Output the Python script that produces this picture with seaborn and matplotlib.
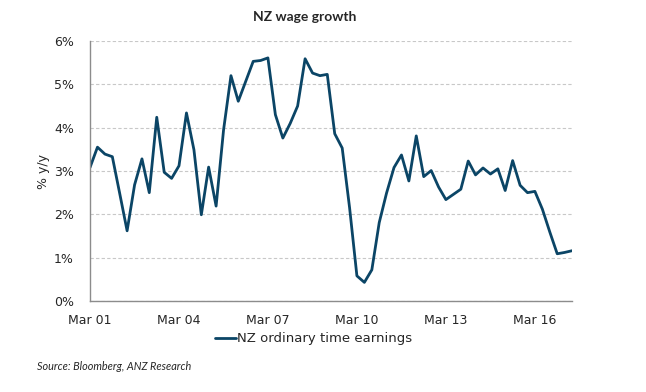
import pandas as pd
import matplotlib
matplotlib.use('Agg')
import matplotlib.pyplot as plt
import matplotlib.dates as mdates
from matplotlib.ticker import FuncFormatter
import seaborn as sns

# Quarterly data, Mar 2001 - Jun 2017
start = '2001-03-01'
n_quarters = 66
wage_growth = [
    3.08, 3.55, 3.39, 3.33, 2.49, 1.62, 2.68, 3.28, 2.50, 4.24, 2.97, 2.83,
    3.12, 4.34, 3.49, 1.99, 3.09, 2.19, 3.95, 5.20, 4.61, 5.07, 5.53, 5.55,
    5.61, 4.30, 3.76, 4.10, 4.50, 5.59, 5.26, 5.20, 5.23, 3.86, 3.53, 2.15,
    0.58, 0.43, 0.72, 1.81, 2.49, 3.08, 3.37, 2.77, 3.81, 2.87, 3.01, 2.63,
    2.34, 2.46, 2.58, 3.23, 2.91, 3.07, 2.93, 3.05, 2.55, 3.24, 2.67, 2.50,
    2.53, 2.12, 1.59, 1.09, 1.12, 1.16,
]
tick_dates = ['2001-03-01', '2004-03-01', '2007-03-01', '2010-03-01', '2013-03-01', '2016-03-01']

df = pd.DataFrame({
    'date': pd.date_range(start, periods=n_quarters, freq='QS-MAR'),
    'value': wage_growth,
})
df['series'] = 'NZ ordinary time earnings'

sns.set_style('white')
plt.rcParams['font.family'] = ['DejaVu Sans']

fig = plt.figure(figsize=(6.46, 3.92), dpi=100)
ax = fig.add_axes([90 / 646, 1 - 301 / 392, 482 / 646, 260 / 392])

line_color = '#0b4566'
sns.lineplot(data=df, x='date', y='value', hue='series', palette=[line_color],
             linewidth=2.0, ax=ax, legend=True)

ax.set_xlim(df['date'].iloc[0], df['date'].iloc[-1])
ax.set_ylim(0, 6)
ax.set_yticks(range(0, 7))
ax.yaxis.set_major_formatter(FuncFormatter(lambda v, p: f'{int(v)}%'))
ax.set_xticks(pd.to_datetime(tick_dates))
ax.xaxis.set_major_formatter(mdates.DateFormatter('%b %y'))

ax.grid(axis='y', color='#c8c8c8', linestyle=(0, (3, 2)), linewidth=0.8)
ax.set_axisbelow(True)
for side in ['top', 'right']:
    ax.spines[side].set_visible(False)
for side in ['left', 'bottom']:
    ax.spines[side].set_color('#8c8c8c')
    ax.spines[side].set_linewidth(1.0)

ax.tick_params(axis='x', direction='out', length=4, color='#8c8c8c', labelsize=9, pad=5)
ax.tick_params(axis='y', direction='inout', length=7, color='#8c8c8c', labelsize=9, pad=8)

ax.set_xlabel('')
ax.set_ylabel('% y/y', fontsize=9, labelpad=3)

leg = ax.legend(loc='upper center', bbox_to_anchor=(0.464, -0.075), frameon=False,
                fontsize=9.5, handlelength=1.6, handletextpad=0.1)

fig.text(305 / 646, 1 - 17 / 392, 'NZ wage growth', ha='center', va='center',
         fontsize=10, fontweight='bold', family='Lato')
fig.text(37 / 646, 1 - 366 / 392, 'Source: Bloomberg, ANZ Research', ha='left', va='center',
         fontsize=7.8, style='italic', family='Lato')

fig.savefig('out.png', dpi=100)
